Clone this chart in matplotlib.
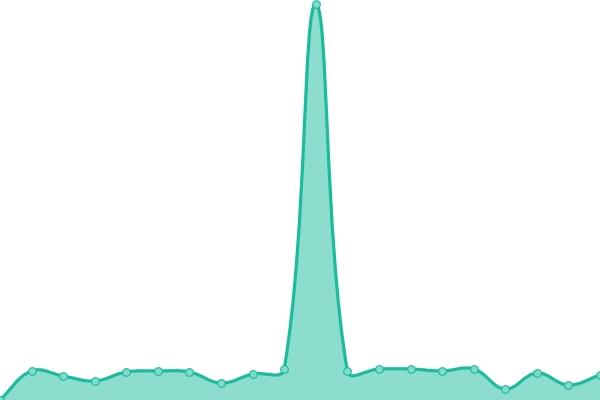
import numpy as np
import matplotlib
matplotlib.use("Agg")
import matplotlib.pyplot as plt
from matplotlib.path import Path
from matplotlib.patches import PathPatch

# data (20 points, no axes shown)
labels = list(range(20))
values = [0, 29, 24, 19, 28, 29, 28, 17, 26, 31, 396, 29, 31, 31, 29, 31, 11, 27, 15, 25]

W, H = 600, 400
YMAX = 400
line_color = "#1abc9c"
fill_color = (26/255, 188/255, 156/255, 0.5)
point_face = "#7fdcc8"

tension = 0.4


def spline_points(xs, ys, t):
    # chart.js style bezier control points, computed in pixel space
    n = len(xs)
    sx = W / (n - 1)
    px = np.array(xs, float) * sx
    py = np.array(ys, float)
    ctrl = []
    for i in range(n):
        p0 = (px[max(i - 1, 0)], py[max(i - 1, 0)])
        p1 = (px[i], py[i])
        p2 = (px[min(i + 1, n - 1)], py[min(i + 1, n - 1)])
        d01 = np.hypot(p1[0] - p0[0], p1[1] - p0[1])
        d12 = np.hypot(p2[0] - p1[0], p2[1] - p1[1])
        s = d01 + d12
        fa = t * d01 / s if s else 0
        fb = t * d12 / s if s else 0
        prev = (p1[0] - fa * (p2[0] - p0[0]), p1[1] - fa * (p2[1] - p0[1]))
        nxt = (p1[0] + fb * (p2[0] - p0[0]), p1[1] + fb * (p2[1] - p0[1]))
        prev = (min(max(prev[0], 0), W), min(max(prev[1], 0), YMAX))
        nxt = (min(max(nxt[0], 0), W), min(max(nxt[1], 0), YMAX))
        ctrl.append((prev, nxt))
    verts = [(px[0] / sx, py[0])]
    codes = [Path.MOVETO]
    for i in range(n - 1):
        c1 = ctrl[i][1]
        c2 = ctrl[i + 1][0]
        verts += [(c1[0] / sx, c1[1]), (c2[0] / sx, c2[1]), (px[i + 1] / sx, py[i + 1])]
        codes += [Path.CURVE4] * 3
    return verts, codes


fig = plt.figure(figsize=(6, 4), dpi=100)
ax = fig.add_axes([0, 0, 1, 1])
ax.set_xlim(0, len(labels) - 1)
ax.set_ylim(0, YMAX)
ax.axis("off")

verts, codes = spline_points(labels, values, tension)

# area under the curve
fv = verts + [(labels[-1], 0), (labels[0], 0), verts[0]]
fc = codes + [Path.LINETO, Path.LINETO, Path.CLOSEPOLY]
ax.add_patch(PathPatch(Path(fv, fc), facecolor=fill_color, edgecolor="none"))

# line
ax.add_patch(PathPatch(Path(verts, codes), facecolor="none", edgecolor=line_color,
                       lw=2.3, capstyle="round", joinstyle="round"))

# points
ax.plot(labels, values, "o", ms=5.5, mfc=point_face, mec=line_color, mew=0.8,
        clip_on=False, zorder=3)

fig.savefig("out.png", dpi=100)
